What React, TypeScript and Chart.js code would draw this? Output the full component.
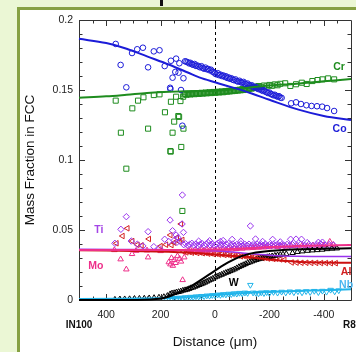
import { useEffect, useRef } from "react";
import { Chart, registerables } from "chart.js";

Chart.register(...registerables);

// ---------- axis ticks ----------
const xTickLabels = [400, 200, 0, -200, -400];
const xMinorTicks = [450, 350, 300, 250, 150, 100, 50, -50, -100, -150, -250, -300, -350, -450];
const yTickLabels = [0, 0.05, 0.1, 0.15, 0.2];
const yMinorTicks = [0.01, 0.02, 0.03, 0.04, 0.06, 0.07, 0.08, 0.09, 0.11, 0.12, 0.13, 0.14, 0.16, 0.17, 0.18, 0.19];

// ---------- measured data (distance um, mass fraction) ----------
const coPoints: number[][] = [
  [365, .1829], [347, .1679], [326, .1519], [305, .1764], [286, .1791], [265, .1802], [246, .1662], [225, .1776],
  [204, .1784], [185, .1671], [162, .1709], [143, .1724], [146, .1629], [134, .1624], [156, .1588], [131, .1691],
  [116, .1584], [125, .1500], [165, .1516], [164, .1507], [120, .1245],
  [110, .1705], [105, .1702], [100, .1698], [95, .1690], [90, .1694], [85, .1684], [80, .1680], [75, .1686],
  [70, .1672], [65, .1675], [60, .1668], [55, .1662], [50, .1670], [45, .1658], [40, .1652], [35, .1660],
  [30, .1648], [25, .1650], [20, .1641], [15, .1645], [10, .1632], [5, .1628],
  [0, .1618], [-5, .1612], [-10, .1620], [-15, .1606], [-20, .1610], [-25, .1600], [-30, .1604], [-35, .1594],
  [-40, .1598], [-45, .1586], [-50, .1590], [-55, .1580], [-60, .1584], [-65, .1574], [-70, .1570], [-75, .1576],
  [-80, .1564], [-85, .1560], [-90, .1566], [-95, .1556], [-100, .1552], [-105, .1558], [-110, .1546],
  [-115, .1540], [-120, .1546], [-125, .1536], [-130, .1530], [-135, .1534], [-140, .1524], [-145, .1518],
  [-150, .1522], [-155, .1512], [-160, .1506], [-165, .1510], [-170, .1500], [-175, .1494], [-180, .1498],
  [-185, .1488], [-190, .1484], [-195, .1478], [-200, .1482], [-205, .1472], [-210, .1468], [-215, .1462],
  [-220, .1466], [-225, .1458], [-230, .1452], [-235, .1456], [-240, .1446], [-245, .1444],
  [-280, .1405], [-298, .1412], [-316, .1400], [-336, .1391], [-355, .1386], [-375, .1384], [-394, .1381],
  [-412, .1371], [-438, .1350],
];

const crPoints: number[][] = [
  [365, .1424], [304, .1369], [283, .1424], [263, .1448], [225, .1464], [204, .1469], [184, .1341], [162, .1416],
  [143, .1452], [127, .1421], [135, .1314], [132, .1308], [346, .1195], [246, .1224], [150, .1274], [156, .1195],
  [116, .1224], [164, .1064], [163, .1060], [124, .1093], [326, .0938], [120, .0636], [117, .1452],
  [115, .1468], [110, .1472], [105, .1466], [100, .1470], [95, .1474], [90, .1468], [85, .1472], [80, .1476],
  [75, .1470], [70, .1474], [65, .1478], [60, .1472], [55, .1476], [50, .1480], [45, .1474], [40, .1478],
  [35, .1482], [30, .1476], [25, .1480], [20, .1484], [15, .1478], [10, .1482], [5, .1486], [0, .1480],
  [-5, .1484], [-10, .1488], [-15, .1482], [-20, .1486], [-25, .1490], [-30, .1484], [-35, .1488], [-40, .1492],
  [-45, .1488], [-50, .1494], [-55, .1490], [-60, .1496], [-65, .1492], [-70, .1498], [-75, .1494], [-80, .1500],
  [-85, .1496], [-90, .1502], [-95, .1498], [-100, .1506], [-105, .1500], [-110, .1508], [-115, .1504],
  [-120, .1512], [-125, .1508], [-130, .1516], [-135, .1510], [-140, .1520], [-145, .1514], [-150, .1524],
  [-155, .1518], [-160, .1528], [-170, .1522], [-180, .1532], [-190, .1526], [-200, .1536], [-210, .1530],
  [-220, .1540], [-230, .1534], [-240, .1544],
  [-258, .1548], [-277, .1529], [-298, .1541], [-319, .1552], [-337, .1543], [-358, .1564], [-377, .1571],
  [-395, .1576], [-416, .1583], [-438, .1576],
];

const tiPoints: number[][] = [
  [120, .0750], [326, .0595], [165, .0571], [121, .0543], [346, .0505], [246, .0488], [156, .0495], [116, .0483],
  [308, .0421], [286, .0398], [265, .0386], [225, .0381], [204, .0369], [185, .0434], [143, .0464], [136, .0445],
  [368, .0405], [170, .0418], [150, .0425], [140, .0412], [128, .0420],
  [115, .0395], [108, .0402], [100, .0390], [93, .0398], [85, .0405], [78, .0392], [70, .0400], [63, .0388],
  [55, .0396], [48, .0404], [40, .0392], [32, .0399], [25, .0410], [18, .0394], [10, .0401], [3, .0390],
  [-5, .0398], [-12, .0406], [-20, .0393], [-28, .0400], [-35, .0388], [-43, .0396], [-50, .0404], [-58, .0392],
  [-65, .0400], [-72, .0388], [-80, .0396], [-88, .0392], [-95, .0401], [-102, .0389], [-110, .0397],
  [-118, .0391], [-125, .0399], [-133, .0387], [-140, .0395], [-148, .0390], [-155, .0398], [-163, .0388],
  [-170, .0396], [-178, .0390], [-185, .0399], [-193, .0387], [-200, .0395], [-208, .0389], [-215, .0397],
  [-222, .0391], [-230, .0398], [-238, .0388], [-245, .0396], [-255, .0390], [-265, .0397], [-275, .0389],
  [-285, .0395], [-300, .0392], [-315, .0398], [-330, .0390], [-345, .0396], [-360, .0389], [-375, .0395],
  [-390, .0398], [-405, .0392], [-420, .0396], [-435, .0393],
  [-130, .0529], [-63, .0433], [-30, .0425], [-95, .0420], [-149, .0436], [-212, .0433], [-278, .0434],
  [-298, .0435], [-318, .0434], [-339, .0410], [-175, .0418], [20, .0423], [60, .0420], [-20, .0418],
  [-240, .0415], [-380, .0412], [-395, .0413],
];

const moPoints: number[][] = [
  [347, .0291], [326, .0219], [305, .0329], [246, .0305], [164, .0255], [150, .0286], [119, .0143], [138, .0314],
  [113, .0305], [170, .0270], [160, .0300], [145, .0265], [130, .0295], [125, .0275], [155, .0245],
  [370, .0357], [290, .0352], [250, .0355], [200, .0350],
  [100, .0352], [90, .0358], [80, .0348], [70, .0356], [60, .0350], [50, .0358], [40, .0352], [30, .0360],
  [20, .0354], [10, .0361], [0, .0356], [-10, .0363], [-20, .0358], [-30, .0365], [-40, .0360], [-50, .0367],
  [-60, .0362], [-70, .0369], [-80, .0365], [-90, .0372], [-100, .0367], [-110, .0374], [-120, .0370],
  [-130, .0376], [-140, .0372], [-150, .0378], [-160, .0374], [-170, .0380], [-180, .0376], [-190, .0381],
  [-200, .0378], [-215, .0383], [-230, .0380], [-245, .0385], [-260, .0382], [-280, .0387], [-300, .0384],
  [-320, .0389], [-340, .0386], [-360, .0391], [-380, .0388], [-400, .0393], [-422, .0417], [-435, .0395],
];

const alPoints: number[][] = [
  [322, .0512], [340, .0457], [362, .0405], [304, .0421], [243, .0436], [164, .0464], [125, .0543], [120, .0429],
  [285, .0395], [270, .0390], [200, .0385], [180, .0395], [150, .0410], [140, .0445], [130, .0415], [160, .0392],
  [115, .0345], [105, .0340], [95, .0344], [85, .0338], [75, .0342], [65, .0336], [55, .0340], [45, .0334],
  [35, .0337], [25, .0331], [15, .0334], [5, .0328], [-5, .0331], [-15, .0325], [-25, .0328], [-35, .0322],
  [-45, .0325], [-55, .0319], [-65, .0322], [-75, .0316], [-85, .0318], [-95, .0312], [-105, .0315],
  [-115, .0309], [-125, .0311], [-135, .0305], [-145, .0308], [-155, .0302], [-165, .0304], [-175, .0299],
  [-185, .0301], [-195, .0296], [-205, .0298], [-215, .0293], [-225, .0295], [-240, .0290], [-255, .0287],
  [-282, .0268], [-300, .0267], [-318, .0266], [-336, .0266], [-354, .0265], [-372, .0265], [-390, .0264],
  [-408, .0264], [-426, .0263], [-444, .0263],
];

const wPoints: number[][] = [
  [368, .0003], [350, .0005], [332, .0006], [314, .0007], [296, .0009], [278, .0010], [260, .0011], [242, .0013],
  [224, .0015], [206, .0018], [188, .0022], [175, .0030], [165, .0042], [158, .0048], [150, .0050], [142, .0055],
  [134, .0058], [126, .0062], [118, .0068], [110, .0071], [102, .0075], [95, .0080], [88, .0086], [80, .0090],
  [73, .0096], [66, .0102], [58, .0108], [50, .0114], [43, .0120], [36, .0126], [29, .0133], [22, .0140],
  [15, .0146], [8, .0153], [0, .0162], [-8, .0168], [-16, .0175], [-24, .0181], [-32, .0188], [-40, .0195],
  [-48, .0200], [-56, .0207], [-64, .0213], [-72, .0220], [-80, .0228], [-88, .0236], [-96, .0243],
  [-104, .0250], [-112, .0257], [-120, .0265], [-128, .0270], [-136, .0276], [-144, .0282], [-152, .0287],
  [-160, .0292], [-168, .0296], [-176, .0300], [-184, .0304], [-192, .0307], [-200, .0310], [-210, .0313],
  [-220, .0317], [-230, .0320], [-240, .0323], [-250, .0326], [-262, .0329], [-285, .0336], [-303, .0344],
  [-321, .0348], [-340, .0352], [-358, .0355], [-376, .0357], [-394, .0360], [-412, .0364], [-430, .0367],
  [-448, .0369],
];

const nbPoints: number[][] = [
  [180, .0008], [170, .0012], [160, .0010], [150, .0014], [140, .0012], [130, .0016], [120, .0014], [110, .0019],
  [100, .0017], [90, .0022], [80, .0020], [70, .0025], [60, .0023], [50, .0028], [40, .0026], [30, .0031],
  [20, .0029], [10, .0034], [0, .0032], [-10, .0038], [-20, .0035], [-30, .0041], [-40, .0038], [-50, .0044],
  [-60, .0041], [-70, .0047], [-80, .0044], [-90, .0050], [-100, .0046], [-110, .0052], [-120, .0049],
  [-130, .0107], [-140, .0052], [-150, .0050], [-160, .0046], [-170, .0053], [-180, .0048], [-190, .0055],
  [-200, .0049], [-215, .0056], [-230, .0051], [-245, .0058], [-260, .0052], [-275, .0060], [-290, .0054],
  [-305, .0061], [-320, .0053], [-335, .0062], [-350, .0056], [-365, .0064], [-380, .0055], [-395, .0065],
  [-410, .0058], [-425, .0072], [-440, .0060], [-455, .0068],
];

// ---------- calculated profiles ----------
const coCurve: number[][] = [
  [500, .1866], [400, .1835], [325, .1795], [250, .1740], [168, .1680], [100, .1625], [58, .1590], [0, .1555],
  [-70, .1515], [-135, .1475], [-200, .1430], [-307, .1360], [-400, .1315], [-500, .1285],
];
const crCurve: number[][] = [
  [500, .1445], [400, .1455], [325, .1466], [250, .1478], [168, .1487], [100, .1491], [0, .1495], [-70, .1505],
  [-135, .1520], [-200, .1532], [-300, .1545], [-400, .1562], [-500, .1578],
];
const moCurve: number[][] = [
  [500, .0357], [300, .0357], [100, .0357], [0, .0360], [-100, .0368], [-200, .0378], [-300, .0386],
  [-400, .0390], [-500, .0393],
];
const tiCurve: number[][] = [
  [500, .0362], [200, .0360], [0, .0352], [-100, .0335], [-200, .0320], [-300, .0312], [-500, .0310],
];
const alCurve: number[][] = [
  [500, .0355], [300, .0350], [100, .0340], [0, .0325], [-100, .0310], [-200, .0290], [-300, .0274],
  [-400, .0268], [-500, .0266],
];
const wCurve: number[][] = [
  [500, 0], [300, 0], [200, .0010], [150, .0040], [100, .0085], [50, .0145], [0, .0210], [-50, .0270],
  [-100, .0315], [-150, .0340], [-250, .0358], [-500, .0370],
];
const nbCurve: number[][] = [
  [500, .0008], [200, .0012], [100, .0020], [0, .0035], [-100, .0048], [-200, .0057], [-300, .0065],
  [-400, .0070], [-500, .0076],
];

// ---------- text annotations ----------
const seriesLabels = [
  { text: "Cr", d: -456, v: 0.1664, color: "#1e8c1e" },
  { text: "Co", d: -458, v: 0.1218, color: "#1c1cd8" },
  { text: "Ti", d: 427, v: 0.05, color: "#a445e6" },
  { text: "Mo", d: 438, v: 0.0243, color: "#ee2f8a" },
  { text: "Al", d: -482, v: 0.02, color: "#d42020" },
  { text: "W", d: -69, v: 0.0121, color: "#000000" },
  { text: "Nb", d: -482, v: 0.0107, color: "#4ab6f0" },
];
const endLabels = ["IN100", "R88DT"];

const FONT = '"Liberation Sans", Arial, sans-serif';

const toXY = (p: number[][]) => p.map(([x, y]) => ({ x, y }));

function markers(label: string, p: number[][], color: string, style: string, radius: number, rotation = 0) {
  return {
    label,
    data: toXY(p),
    showLine: false,
    pointStyle: style,
    pointRotation: rotation,
    pointRadius: radius,
    pointBorderWidth: 1,
    pointBorderColor: color,
    pointBackgroundColor: "rgba(0,0,0,0)",
    borderColor: color,
    backgroundColor: "rgba(0,0,0,0)",
    order: 2,
  };
}

function curve(label: string, p: number[][], color: string, width = 2) {
  return {
    label,
    data: toXY(p),
    showLine: true,
    pointRadius: 0,
    borderColor: color,
    backgroundColor: color,
    borderWidth: width,
    tension: 0.35,
    clip: 4,
    order: 1,
  };
}

const framePlugin = {
  id: "frame",
  beforeDatasetsDraw(chart: any) {
    const { ctx, chartArea: a, scales } = chart;
    const xs = scales.x, ys = scales.y;
    ctx.save();
    ctx.strokeStyle = "#333";
    ctx.lineWidth = 1;
    ctx.beginPath();
    ctx.rect(Math.round(a.left) + 0.5, Math.round(a.top) + 0.5, Math.round(a.right - a.left), Math.round(a.bottom - a.top));
    ctx.stroke();
    const drawX = (v: number, len: number) => {
      const px = Math.round(xs.getPixelForValue(v)) + 0.5;
      ctx.beginPath();
      ctx.moveTo(px, a.bottom); ctx.lineTo(px, a.bottom - len);
      ctx.moveTo(px, a.top); ctx.lineTo(px, a.top + len);
      ctx.stroke();
    };
    const drawY = (v: number, len: number) => {
      const py = Math.round(ys.getPixelForValue(v)) + 0.5;
      ctx.beginPath();
      ctx.moveTo(a.left, py); ctx.lineTo(a.left + len, py);
      ctx.moveTo(a.right, py); ctx.lineTo(a.right - len, py);
      ctx.stroke();
    };
    xTickLabels.forEach((v) => drawX(v, 6));
    xMinorTicks.forEach((v) => drawX(v, 3.5));
    yTickLabels.forEach((v) => drawY(v, 6));
    yMinorTicks.forEach((v) => drawY(v, 3.5));
    // dashed interface line
    const x0 = Math.round(xs.getPixelForValue(0)) + 0.5;
    ctx.setLineDash([3, 3]);
    ctx.strokeStyle = "#000";
    ctx.beginPath();
    ctx.moveTo(x0, a.top); ctx.lineTo(x0, a.bottom);
    ctx.stroke();
    ctx.restore();
  },
  afterDraw(chart: any) {
    const { ctx, chartArea: a, scales } = chart;
    const xs = scales.x, ys = scales.y;
    ctx.save();
    ctx.font = `bold 10.5px ${FONT}`;
    ctx.textBaseline = "middle";
    ctx.textAlign = "center";
    seriesLabels.forEach((l) => {
      ctx.fillStyle = l.color;
      ctx.fillText(l.text, xs.getPixelForValue(l.d), ys.getPixelForValue(l.v));
    });
    ctx.fillStyle = "#111";
    ctx.font = `bold 10px ${FONT}`;
    ctx.textAlign = "center";
    ctx.fillText(endLabels[0], xs.getPixelForValue(500), a.bottom + 25);
    ctx.textAlign = "left";
    ctx.fillText(endLabels[1], xs.getPixelForValue(-471), a.bottom + 25);
    ctx.restore();
  },
};

export default function App() {
  const ref = useRef<HTMLCanvasElement>(null);
  useEffect(() => {
    const canvas = ref.current;
    if (!canvas) return;
    const chart = new Chart(canvas, {
      type: "scatter",
      data: {
        datasets: [
          curve("Co calc", coCurve, "#1c1cd8", 2),
          curve("Cr calc", crCurve, "#1e8c1e", 2),
          curve("W calc", wCurve, "#000000", 2),
          curve("Mo calc", moCurve, "#ee2f8a", 2),
          curve("Ti calc", tiCurve, "#9933ee", 1.5),
          curve("Al calc", alCurve, "#cc1010", 2),
          curve("Nb calc", nbCurve, "#20b4ea", 2),
          markers("W", wPoints, "#000000", "triangle", 3.2),
          markers("Co", coPoints, "#1c1cd8", "circle", 2.8),
          markers("Cr", crPoints, "#1e8c1e", "rect", 3.6),
          markers("Ti", tiPoints, "#9933ee", "rectRot", 3.2),
          markers("Mo", moPoints, "#ee2f8a", "triangle", 3.2),
          markers("Al", alPoints, "#d42020", "triangle", 3.2, -90),
          markers("Nb", nbPoints, "#20b4ea", "triangle", 3.2, 180),
        ] as any,
      },
      options: {
        responsive: false,
        maintainAspectRatio: false,
        animation: false,
        events: [],
        layout: { padding: { left: 0, top: 20, right: 3, bottom: 0 } },
        plugins: { legend: { display: false }, tooltip: { enabled: false } },
        scales: {
          x: {
            type: "linear",
            min: -500,
            max: 500,
            reverse: true,
            grid: { display: false, drawTicks: false },
            border: { display: false },
            ticks: {
              padding: 9,
              autoSkip: false,
              maxRotation: 0,
              color: "#222",
              font: { family: FONT, size: 10.5 },
              callback: (v: any) => String(v),
            },
            afterBuildTicks: (s: any) => {
              s.ticks = xTickLabels.map((value) => ({ value }));
            },
            afterFit: (s: any) => {
              s.height = 52;
            },
            title: {
              display: true,
              text: "Distance (\u03bcm)",
              color: "#111",
              font: { family: FONT, size: 13.5 },
              padding: { top: 0, bottom: 2 },
            },
          },
          y: {
            type: "linear",
            min: 0,
            max: 0.2,
            grid: { display: false, drawTicks: false },
            border: { display: false },
            ticks: {
              padding: 6,
              autoSkip: false,
              color: "#222",
              font: { family: FONT, size: 10.5 },
              callback: (v: any) => String(v),
            },
            afterBuildTicks: (s: any) => {
              s.ticks = yTickLabels.map((value) => ({ value }));
            },
            afterFit: (s: any) => {
              s.width = 79;
            },
            title: {
              display: true,
              text: "Mass Fraction in FCC",
              color: "#111",
              font: { family: FONT, size: 13.5 },
              padding: { top: 22, bottom: 0 },
            },
          },
        },
      } as any,
      plugins: [framePlugin],
    });
    return () => chart.destroy();
  }, []);

  return (
    <div
      style={{
        position: "fixed",
        left: 0,
        top: 0,
        width: 356,
        height: 352,
        overflow: "hidden",
        background: "#ebf7d5",
      }}
    >
      <div style={{ position: "absolute", left: 160, top: 0, width: 3, height: 6, background: "#111" }} />
      <div
        style={{
          position: "absolute",
          left: 17,
          top: 7,
          width: 400,
          height: 400,
          background: "#ffffff",
          borderLeft: "3px solid #86a143",
          borderTop: "3px solid #86a143",
        }}
      />
      <canvas
        ref={ref}
        width={356}
        height={352}
        style={{ position: "absolute", left: 0, top: 0, width: 356, height: 352, display: "block" }}
      />
    </div>
  );
}
